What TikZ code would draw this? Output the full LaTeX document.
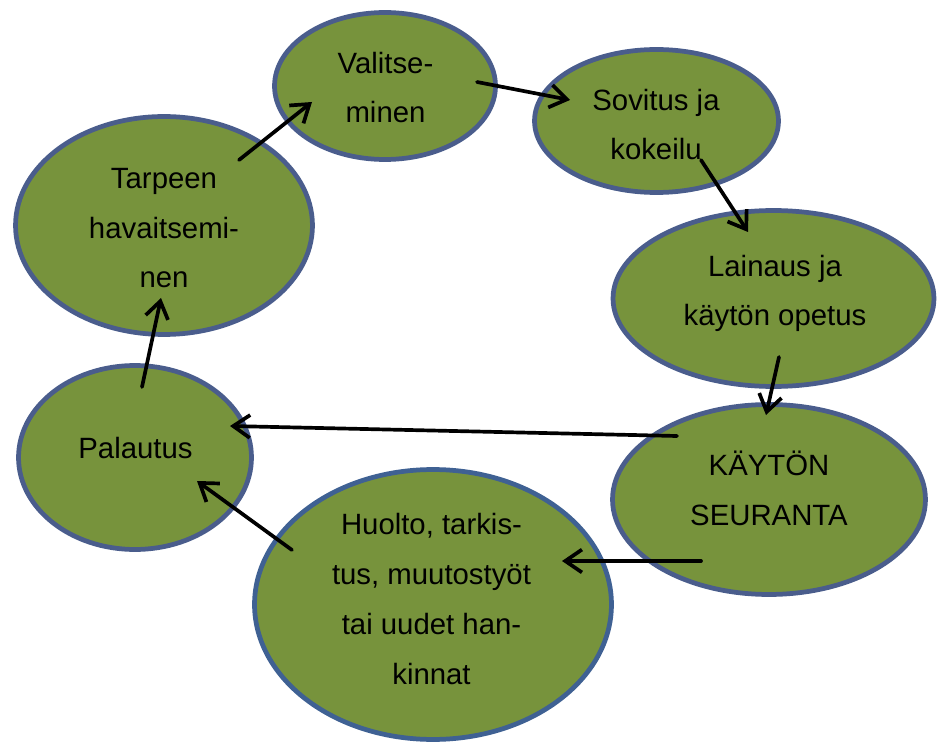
\documentclass[tikz,border=0pt]{standalone}
\usepackage{fontspec}
\setmainfont{Liberation Sans}
\usetikzlibrary{arrows.meta,shapes.geometric}
\definecolor{leaf}{HTML}{77933C}
\definecolor{rim}{HTML}{4A5D8C}
\definecolor{rimblue}{HTML}{3F6193}
\tikzset{kupla/.style={ellipse,draw=rim,line width=2.7pt,fill=leaf,inner sep=0pt},
  teksti/.style={anchor=base,align=center,inner sep=0pt,font=\fontsize{16.7}{28.4}\selectfont},
  nuoli/.style={line width=2.1pt,line cap=round,-{Straight Barb[length=9.5pt,width=13pt]}}}

\begin{document}
\begin{tikzpicture}[x=0.02cm,y=-0.02cm]
  \useasboundingbox (0,0) rectangle (937,743);
  % kuplat
  \node[kupla,minimum width=4.42cm,minimum height=2.94cm](valinta)at(385,86){};
  \node[kupla,minimum width=4.88cm,minimum height=2.86cm](sovitus)at(656.5,121){};
  \node[kupla,minimum width=6.42cm,minimum height=3.52cm](lainaus)at(773.5,298.5){};
  \node[kupla,minimum width=6.26cm,minimum height=3.8cm](seuranta)at(769,499.5){};
  \node[kupla,draw=rimblue,minimum width=7.14cm,minimum height=5.4cm](huolto)at(433,604.5){};
  \node[kupla,minimum width=4.66cm,minimum height=3.68cm](palautus)at(135,457.5){};
  \node[kupla,minimum width=5.94cm,minimum height=4.36cm](tarve)at(164,225.5){};
  % tekstit (base = viimeisen rivin perusviiva)
  \node[teksti](valintaT)at(385.5,123){Valitse-\\minen};
  \node[teksti](sovitusT)at(656,160){Sovitus ja\\kokeilu};
  \node[teksti](lainausT)at(775,326){Lainaus ja\\käytön opetus};
  \node[teksti](seurantaT)at(769,525){KÄYTÖN\\SEURANTA};
  \node[teksti](huoltoT)at(431.5,684){Huolto, tarkis-\\tus, muutostyöt\\tai uudet han-\\kinnat};
  \node[teksti](palautusT)at(135.5,459){Palautus};
  \node[teksti](tarveT)at(164,288){Tarpeen\\havaitsemi-\\nen};
  % nuolten päät
  \coordinate(tarveA)at(239,160);\coordinate(valintaB)at(312,102);
  \coordinate(valintaA)at(477,82);\coordinate(sovitusB)at(570,100);
  \coordinate(sovitusA)at(701,160);\coordinate(lainausB)at(748,232);
  \coordinate(lainausA)at(779,357);\coordinate(seurantaB)at(766,415);
  \coordinate(seurantaA)at(677,436);\coordinate(palautusB)at(230,426);
  \coordinate(seurantaC)at(701,561);\coordinate(huoltoB)at(562,561);
  \coordinate(huoltoA)at(292,550);\coordinate(palautusC)at(197,481);
  \coordinate(palautusA)at(142,387);\coordinate(tarveB)at(161,298);
  \draw[nuoli](tarveA)--(valintaB);
  \draw[nuoli](valintaA)--(sovitusB);
  \draw[nuoli](sovitusA)--(lainausB);
  \draw[nuoli](lainausA)--(seurantaB);
  \draw[nuoli](seurantaA)--(palautusB);
  \draw[nuoli](seurantaC)--(huoltoB);
  \draw[nuoli](huoltoA)--(palautusC);
  \draw[nuoli](palautusA)--(tarveB);
\end{tikzpicture}
\end{document}
